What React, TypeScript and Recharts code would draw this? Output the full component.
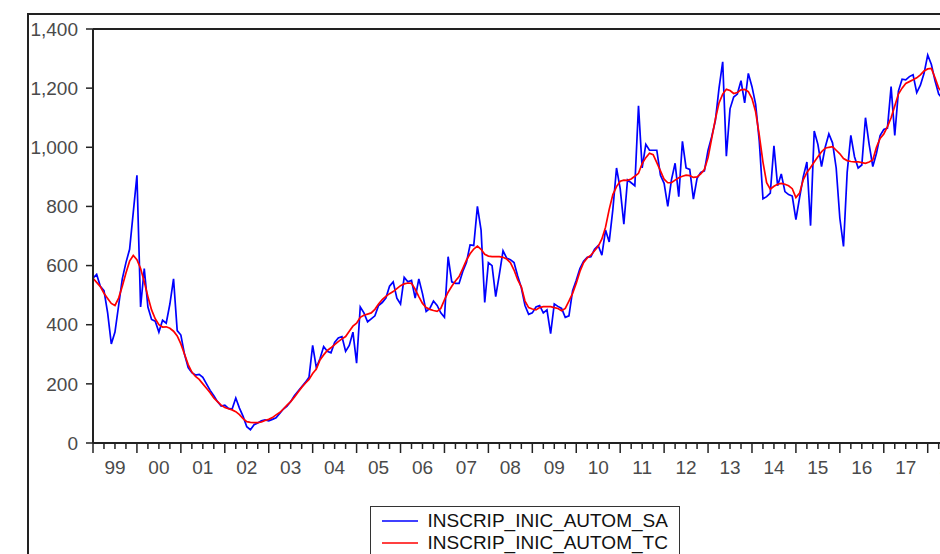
import { LineChart, Line, XAxis, YAxis, ReferenceLine, Legend } from "recharts";

// monthly, 1999M1 .. 2018M5
const INSCRIP_INIC_AUTOM_SA = [
  557, 570, 530, 515, 440, 335, 375, 465, 555, 610, 655, 780, // 1999
  905, 460, 590, 460, 418, 412, 375, 415, 405, 470, 555, 380, // 2000
  365, 300, 255, 238, 230, 232, 222, 200, 178, 160, 140, 125, // 2001
  128, 117, 115, 152, 118, 90, 55, 45, 62, 68, 75, 78, // 2002
  75, 80, 85, 100, 115, 125, 140, 160, 175, 190, 205, 222, // 2003
  330, 255, 285, 326, 310, 305, 340, 355, 360, 310, 330, 375, // 2004
  270, 460, 440, 410, 420, 430, 465, 475, 490, 530, 545, 490, // 2005
  470, 560, 545, 550, 490, 555, 505, 445, 455, 480, 465, 440, // 2006
  425, 630, 545, 540, 540, 580, 610, 670, 668, 800, 720, 475, // 2007
  610, 600, 495, 570, 650, 625, 620, 610, 565, 525, 465, 435, // 2008
  440, 460, 465, 440, 450, 370, 470, 462, 455, 425, 430, 515, // 2009
  550, 590, 615, 628, 630, 655, 668, 635, 720, 680, 790, 930, // 2010
  860, 740, 890, 880, 870, 1140, 930, 1010, 990, 990, 990, 905, // 2011
  878, 800, 890, 946, 833, 1020, 930, 925, 825, 895, 915, 920, // 2012
  990, 1036, 1090, 1200, 1289, 970, 1130, 1170, 1180, 1225, 1150, 1250, // 2013
  1205, 1145, 1020, 826, 833, 845, 1005, 870, 910, 850, 840, 835, // 2014
  755, 830, 900, 950, 735, 1055, 1010, 935, 1000, 1045, 1015, 930, // 2015
  760, 665, 915, 1040, 968, 930, 940, 1100, 1010, 935, 980, 1040, // 2016
  1060, 1065, 1205, 1040, 1190, 1230, 1228, 1239, 1245, 1185, 1210, 1250, // 2017
  1312, 1280, 1225, 1180, 1165, // 2018
];

const INSCRIP_INIC_AUTOM_TC = [
  557, 543, 529, 506, 489, 472, 465, 490, 530, 575, 615, 634,
  620, 590, 545, 495, 450, 420, 400, 392, 393, 388, 378, 362,
  335, 300, 265, 240, 225, 215, 200, 185, 170, 152, 140, 128,
  120, 116, 112, 106, 96, 82, 72, 70, 69, 69, 71, 76,
  80, 86, 95, 103, 115, 128, 140, 155, 172, 188, 202, 215,
  235, 250, 281, 298, 313, 322, 333, 343, 352, 360, 378, 395,
  405, 425, 432, 436, 440, 452, 470, 485, 496, 505, 512, 522,
  532, 538, 541, 540, 520, 495, 472, 458, 452, 448, 445, 455,
  484, 510, 530, 548, 563, 590, 618, 640, 656, 666, 655, 638,
  632, 630, 630, 630, 628, 622, 610, 585, 552, 528, 480, 458,
  453, 450, 458, 461, 461, 461, 458, 455, 447, 455, 480, 506,
  540, 580, 610, 626, 635, 650, 665, 690, 730, 790, 840, 867,
  885, 889, 888, 893, 902, 912, 945, 965, 980, 975, 948, 920,
  892, 880, 880, 889, 897, 902, 906, 904, 898, 900, 910, 925,
  965, 1030, 1095, 1150, 1180, 1196, 1192, 1182, 1185, 1194, 1196, 1188,
  1165, 1120, 1040, 950, 880, 858, 868, 875, 878, 875, 870, 860,
  830, 845, 890, 915, 932, 950, 968, 985, 997, 1000, 1002, 990,
  978, 962, 955, 952, 951, 951, 948, 946, 950, 957, 1000, 1030,
  1045, 1070, 1100, 1140, 1180, 1200, 1216, 1222, 1228, 1235, 1245, 1258,
  1265, 1267, 1235, 1200, 1185,
];

const YEAR_LABELS = ["99", "00", "01", "02", "03", "04", "05", "06", "07", "08",
  "09", "10", "11", "12", "13", "14", "15", "16", "17", "18"];
const Y_TICKS = [0, 200, 400, 600, 800, 1000, 1200, 1400];

const LAST_MONTH = 236; // x domain end (chart runs past the crop)
const FONT = "'Liberation Sans', Arial, sans-serif";
const AXIS = "#222";
const LABEL = "#4a4a4a";

const data = INSCRIP_INIC_AUTOM_SA.map((v, i) => ({ t: i, SA: v, TC: INSCRIP_INIC_AUTOM_TC[i] }));
const quarterTicks: number[] = [];
for (let t = 0; t <= LAST_MONTH; t += 3) quarterTicks.push(t);

function MonthTick({ x, y, payload }: any) {
  const t = payload.value as number;
  const major = t % 12 === 0;
  const label = t % 12 === 6 ? YEAR_LABELS[(t - 6) / 12] : null;
  return (
    <g>
      <line x1={x} x2={x} y1={y} y2={y + (major ? 10 : 6)} stroke={AXIS} strokeWidth={1.5} />
      {label && (
        <text x={x} y={y + 31} textAnchor="middle" fontSize={19} fill={LABEL} fontFamily={FONT}>
          {label}
        </text>
      )}
    </g>
  );
}

function LegendBox({ payload }: any) {
  return (
    <div style={{
      border: "1.5px solid #333", width: 310, height: 70, boxSizing: "border-box",
      padding: "3px 0 0 10.5px", background: "#fff", fontFamily: FONT, fontSize: 19, color: "#111",
    }}>
      {(payload ?? []).map((p: any) => (
        <div key={p.value} style={{ display: "flex", alignItems: "center", height: 22 }}>
          <svg width={36} height={4} style={{ flexShrink: 0 }}>
            <line x1={0} x2={36} y1={2} y2={2} stroke={p.color} strokeWidth={1.5} />
          </svg>
          <span style={{ marginLeft: 10, whiteSpace: "nowrap" }}>{p.value}</span>
        </div>
      ))}
    </div>
  );
}

export default function App() {
  return (
    <div style={{ position: "fixed", left: 0, top: 0, width: 940, height: 554, overflow: "hidden", background: "#fff" }}>
      {/* outer graph frame */}
      <div style={{
        position: "absolute", left: 27, top: 13, width: 1000, height: 700,
        borderLeft: "2px solid #222", borderTop: "2px solid #222",
      }} />
      <div style={{ position: "absolute", left: 0, top: 0 }}>
        <LineChart width={960} height={600} data={data} margin={{ top: 29, right: 3, left: 0, bottom: 117 }}>
          <XAxis
            dataKey="t" type="number" domain={[0, LAST_MONTH]} ticks={quarterTicks} interval={0}
            tick={(p: any) => <MonthTick {...p} />} tickLine={false} tickSize={0} tickMargin={0}
            height={40} axisLine={{ stroke: AXIS, strokeWidth: 2 }} allowDataOverflow
          />
          <YAxis
            domain={[0, 1400]} ticks={Y_TICKS} interval={0} width={93} tickSize={7} tickMargin={8}
            tickFormatter={(v: number) => v.toLocaleString("en-US")}
            tick={{ fontSize: 19, fill: LABEL, fontFamily: FONT }}
            axisLine={{ stroke: AXIS, strokeWidth: 2 }} tickLine={{ stroke: AXIS, strokeWidth: 1.5 }}
            allowDataOverflow
          />
          <ReferenceLine y={1400} stroke={AXIS} strokeWidth={2} />
          <Line type="linear" dataKey="SA" name="INSCRIP_INIC_AUTOM_SA" stroke="#0000ff" strokeWidth={1.7} dot={false} isAnimationActive={false} />
          <Line type="linear" dataKey="TC" name="INSCRIP_INIC_AUTOM_TC" stroke="#ff0000" strokeWidth={1.7} dot={false} isAnimationActive={false} />
          <Legend
            layout="horizontal" verticalAlign="middle" align="center" content={<LegendBox />}
            wrapperStyle={{ left: 370, top: 506, width: 310 }}
          />
        </LineChart>
      </div>
    </div>
  );
}
